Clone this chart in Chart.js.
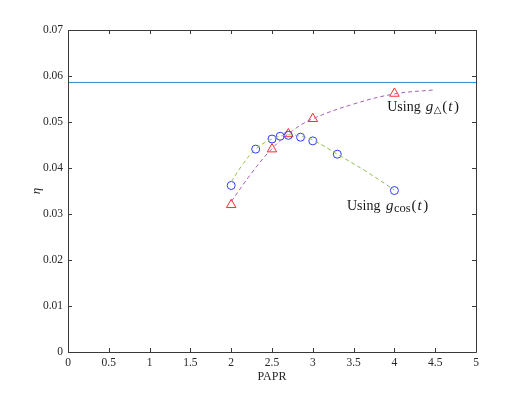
<!DOCTYPE html>
<html>
<head>
<meta charset="utf-8">
<script src="https://cdn.jsdelivr.net/npm/chart.js@4.4.0/dist/chart.umd.min.js"></script>
<style>
  html, body { margin: 0; padding: 0; background: #fff; }
  #wrap { width: 526px; height: 395px; }
</style>
</head>
<body>
<div id="wrap"><canvas id="chart" width="526" height="395"></canvas></div>
<script>
// axis ranges and ticks
const xTicks = [0, 0.5, 1, 1.5, 2, 2.5, 3, 3.5, 4, 4.5, 5];
const yTicks = [0, 0.01, 0.02, 0.03, 0.04, 0.05, 0.06, 0.07];

// measured points, g_cos(t)
const paprCos = [2.0, 2.3, 2.5, 2.6, 2.7, 2.85, 3.0, 3.3, 4.0];
const etaCos = [0.0362, 0.0441, 0.0463, 0.0469, 0.0471, 0.0467, 0.0459, 0.0430, 0.0351];

// measured points, g_tri(t)
const paprTri = [2.0, 2.5, 2.7, 3.0, 4.0];
const etaTri = [0.0320, 0.0441, 0.0474, 0.0507, 0.0562];

// dashed fitted curves
const fitPaprCos = [2.0, 2.15, 2.3, 2.5, 2.7, 2.85, 3.0, 3.3, 3.65, 4.0];
const fitEtaCos = [0.0370, 0.0410, 0.0441, 0.0463, 0.0472, 0.0469, 0.0461, 0.0430, 0.0393, 0.0352];
const fitPaprTri = [2.0, 2.25, 2.5, 2.75, 3.0, 3.5, 4.0, 4.5];
const fitEtaTri = [0.0327, 0.0389, 0.0442, 0.0481, 0.0507, 0.0539, 0.0561, 0.0570];

// horizontal reference level
const refLevel = 0.0586;

const toPts = (xs, ys) => xs.map((x, i) => ({ x: x, y: ys[i] }));

const axisColor = '#3a3a3a';
const serif = '"Liberation Serif", "Times New Roman", serif';

// box, inward ticks, axis titles and text labels
const decorPlugin = {
    id: 'decor',
    afterDraw(chart) {
        const ctx = chart.ctx;
        const a = chart.chartArea;
        const xs = chart.scales.x, ys = chart.scales.y;
        ctx.save();
        ctx.strokeStyle = axisColor;
        ctx.lineWidth = 1;
        ctx.beginPath();
        ctx.rect(Math.round(a.left) + 0.5, Math.round(a.top) + 0.5,
                 Math.round(a.right - a.left), Math.round(a.bottom - a.top));
        const tl = 4;
        xTicks.forEach(v => {
            const px = Math.round(xs.getPixelForValue(v)) + 0.5;
            ctx.moveTo(px, a.bottom); ctx.lineTo(px, a.bottom - tl);
            ctx.moveTo(px, a.top); ctx.lineTo(px, a.top + tl);
        });
        yTicks.forEach(v => {
            const py = Math.round(ys.getPixelForValue(v)) + 0.5;
            ctx.moveTo(a.left, py); ctx.lineTo(a.left + tl, py);
            ctx.moveTo(a.right, py); ctx.lineTo(a.right - tl, py);
        });
        ctx.stroke();

        ctx.fillStyle = '#262626';
        ctx.font = '12px ' + serif;
        ctx.textAlign = 'center';
        ctx.textBaseline = 'middle';
        ctx.fillText('PAPR', (a.left + a.right) / 2, 377);

        ctx.save();
        ctx.translate(37, (a.top + a.bottom) / 2);
        ctx.rotate(-Math.PI / 2);
        ctx.font = 'italic 13px ' + serif;
        ctx.fillText('η', 0, 0);
        ctx.restore();

        // math-ish labels
        const drawLabel = (x, y, parts) => {
            let px = xs.getPixelForValue(x);
            const py = ys.getPixelForValue(y);
            ctx.textAlign = 'left';
            ctx.textBaseline = 'alphabetic';
            ctx.fillStyle = '#1a1a1a';
            parts.forEach(p => {
                ctx.font = p.f;
                ctx.fillText(p.t, px, py + (p.dy || 0));
                px += ctx.measureText(p.t).width + (p.gap || 0);
            });
        };
        const rm = '14px ' + serif, it = 'italic 15px ' + serif, pr = '15px ' + serif;
        drawLabel(3.912, 0.0525, [
            { t: 'Using', f: rm, gap: 5 },
            { t: 'g', f: it, gap: 0.5 },
            { t: '△', f: '10px "DejaVu Sans"', dy: 2, gap: 1 },
            { t: '(', f: pr, gap: 1 },
            { t: 't', f: it, gap: 1.5 },
            { t: ')', f: pr }
        ]);
        drawLabel(3.419, 0.0308, [
            { t: 'Using', f: rm, gap: 5.5 },
            { t: 'g', f: it, gap: 0.5 },
            { t: 'cos', f: '12.5px ' + serif, dy: 2, gap: 1 },
            { t: '(', f: pr, gap: 1 },
            { t: 't', f: it, gap: 1.5 },
            { t: ')', f: pr }
        ]);
        ctx.restore();
    }
};

const ctx = document.getElementById('chart').getContext('2d');
new Chart(ctx, {
    type: 'scatter',
    data: {
        datasets: [
            {
                data: toPts(fitPaprTri, fitEtaTri),
                showLine: true, borderColor: '#a462b8', borderWidth: 1,
                borderDash: [4, 3], pointRadius: 0, tension: 0.4
            },
            {
                data: toPts(fitPaprCos, fitEtaCos),
                showLine: true, borderColor: '#8fbf4a', borderWidth: 1,
                borderDash: [4, 3], pointRadius: 0, tension: 0.4
            },
            {
                data: toPts([xTicks[0], xTicks[xTicks.length - 1]], [refLevel, refLevel]),
                showLine: true, borderColor: '#2b8fd6', borderWidth: 1, pointRadius: 0
            },
            {
                data: toPts(paprCos, etaCos),
                pointStyle: 'circle', pointRadius: 4, borderColor: '#2f3cff',
                backgroundColor: 'rgba(0,0,0,0)', borderWidth: 1
            },
            {
                data: toPts(paprTri, etaTri),
                pointStyle: 'triangle', pointRadius: 5.5, borderColor: '#ff2a2a',
                backgroundColor: 'rgba(0,0,0,0)', borderWidth: 1
            }
        ]
    },
    options: {
        responsive: false,
        animation: false,
        devicePixelRatio: 1,
        layout: { padding: { left: 0, right: 50, top: 30, bottom: 0 } },
        plugins: { legend: { display: false }, tooltip: { enabled: false } },
        scales: {
            x: {
                type: 'linear', min: 0, max: 5,
                afterFit: s => { s.height = 43; },
                afterBuildTicks: s => { s.ticks = xTicks.map(v => ({ value: v })); },
                grid: { display: false, drawTicks: false },
                border: { display: false },
                ticks: {
                    padding: 4, maxRotation: 0, autoSkip: false,
                    color: '#262626', font: { family: serif, size: 11.5 },
                    callback: v => String(v)
                }
            },
            y: {
                type: 'linear', min: 0, max: 0.07,
                afterFit: s => { s.width = 68; },
                afterBuildTicks: s => { s.ticks = yTicks.map(v => ({ value: v })); },
                grid: { display: false, drawTicks: false },
                border: { display: false },
                ticks: {
                    padding: 5, autoSkip: false,
                    color: '#262626', font: { family: serif, size: 11.5 },
                    callback: v => String(+v.toFixed(2))
                }
            }
        }
    },
    plugins: [decorPlugin]
});
</script>
</body>
</html>
